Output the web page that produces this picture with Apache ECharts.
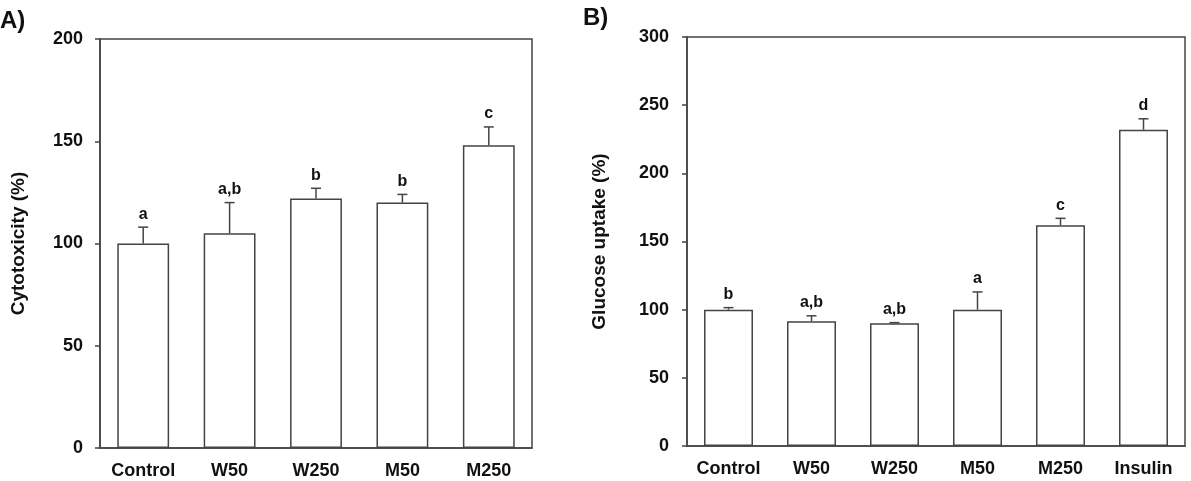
<!DOCTYPE html>
<html>
<head>
<meta charset="utf-8">
<script src="https://cdn.jsdelivr.net/npm/echarts@6/dist/echarts.min.js"></script>
<style>
html,body{margin:0;padding:0;background:#fff;}
#c{width:1191px;height:481px;}
</style>
</head>
<body>
<div id="c"></div>
<script>
// Panel A data
const categoriesA = ['Control', 'W50', 'W250', 'M50', 'M250'];
const valuesA = [100, 105, 122, 120, 148];
const errorsA = [8, 15, 5, 4, 9];
const lettersA = ['a', 'a,b', 'b', 'b', 'c'];
const yMinA = 0, yMaxA = 200, yStepA = 50;

// Panel B data
const categoriesB = ['Control', 'W50', 'W250', 'M50', 'M250', 'Insulin'];
const valuesB = [100, 91.5, 90, 100, 162, 232];
const errorsB = [1.5, 4, 0.5, 13, 5, 8];
const lettersB = ['b', 'a,b', 'a,b', 'a', 'c', 'd'];
const yMinB = 0, yMaxB = 300, yStepB = 50;

const FONT = '"Liberation Sans", Arial, sans-serif';
const TXT = '#111';
const LINE = '#444';

function makeErr(vals, errs, letters, axisIdx) {
  return {
    type: 'custom',
    xAxisIndex: axisIdx, yAxisIndex: axisIdx,
    z: 5,
    data: vals.map((v, i) => [i, v, errs[i]]),
    renderItem: function (params, api) {
      const i = api.value(0), v = api.value(1), e = api.value(2);
      const base = api.coord([i, v]);
      const top = api.coord([i, v + e]);
      const lt = letters[params.dataIndex];
      return {
        type: 'group',
        children: [
          { type: 'line', shape: { x1: base[0], y1: base[1], x2: top[0], y2: top[1] }, style: { stroke: LINE, lineWidth: 1.5 } },
          { type: 'line', shape: { x1: top[0] - 5, y1: top[1], x2: top[0] + 5, y2: top[1] }, style: { stroke: LINE, lineWidth: 1.5 } },
          { type: 'text', x: top[0], y: top[1] - 5, style: { text: lt, fill: TXT, font: 'bold 16px ' + FONT, align: 'center', verticalAlign: 'bottom' } }
        ]
      };
    }
  };
}

function yAxisCfg(idx, min, max, step, name, gap, margin) {
  return {
    gridIndex: idx, type: 'value', min: min, max: max, interval: step,
    name: name, nameLocation: 'middle', nameGap: gap, nameRotate: 90,
    nameTextStyle: { color: TXT, fontSize: 19, fontWeight: 'bold', fontFamily: FONT },
    axisLine: { show: true, lineStyle: { color: LINE, width: 1.5 } },
    axisTick: { show: true, inside: false, length: 5, lineStyle: { color: LINE, width: 1.5 } },
    axisLabel: { color: TXT, fontSize: 18, fontWeight: 'bold', fontFamily: FONT, margin: margin },
    splitLine: { show: false }
  };
}

function xAxisCfg(idx, cats) {
  return {
    gridIndex: idx, type: 'category', data: cats,
    axisLine: { show: true, lineStyle: { color: LINE, width: 1.5 } },
    axisTick: { show: false },
    axisLabel: { color: TXT, fontSize: 18, fontWeight: 'bold', fontFamily: FONT, margin: 14, interval: 0 },
    splitLine: { show: false }
  };
}

const barStyle = { color: '#fff', borderColor: LINE, borderWidth: 1.5 };

const option = {
  animation: false,
  backgroundColor: '#fff',
  graphic: [
    { type: 'text', left: 0, top: 9, style: { text: 'A)', fill: TXT, font: 'bold 24px ' + FONT } },
    { type: 'text', left: 583, top: 6, style: { text: 'B)', fill: TXT, font: 'bold 24px ' + FONT } }
  ],
  grid: [
    { left: 100, top: 39, width: 432, height: 409, show: true, borderColor: LINE, borderWidth: 1.5, backgroundColor: 'transparent' },
    { left: 687, top: 37, width: 498, height: 409, show: true, borderColor: LINE, borderWidth: 1.5, backgroundColor: 'transparent' }
  ],
  xAxis: [xAxisCfg(0, categoriesA), xAxisCfg(1, categoriesB)],
  yAxis: [
    yAxisCfg(0, yMinA, yMaxA, yStepA, 'Cytotoxicity (%)', 72, 17),
    yAxisCfg(1, yMinB, yMaxB, yStepB, 'Glucose uptake (%)', 78, 18)
  ],
  series: [
    { type: 'bar', xAxisIndex: 0, yAxisIndex: 0, data: valuesA, barWidth: '60%', itemStyle: barStyle, z: 2 },
    makeErr(valuesA, errorsA, lettersA, 0),
    { type: 'bar', xAxisIndex: 1, yAxisIndex: 1, data: valuesB, barWidth: '59%', itemStyle: barStyle, z: 2 },
    makeErr(valuesB, errorsB, lettersB, 1)
  ]
};

const chart = echarts.init(document.getElementById('c'), null, { renderer: 'canvas' });
chart.setOption(option);
</script>
</body>
</html>
